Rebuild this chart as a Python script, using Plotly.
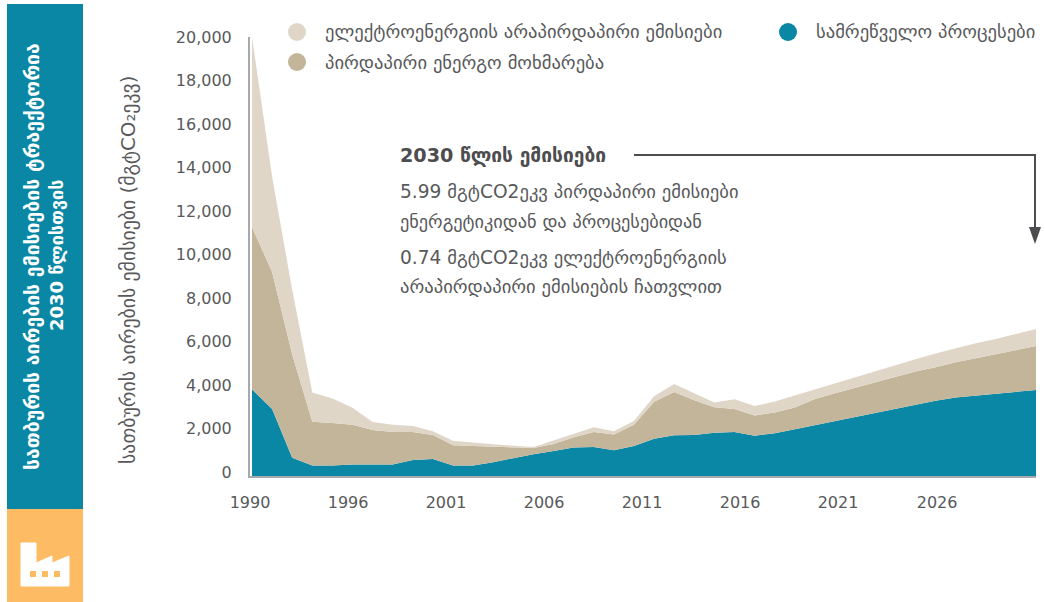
import plotly.graph_objects as go

W, H = 1045, 602
L, R, T_, B = 250, 1036, 37, 476

point_index = list(range(40))
process = [3939,3049,825,479,479,528,528,528,726,775,479,479,627,825,993,1141,1299,1319,1171,1368,1695,1853,1863,1961,2001,1833,1942,2130,2317,2505,2693,2881,3069,3257,3425,3573,3662,3741,3830,3909]
direct = [7375,6228,4696,1987,1928,1799,1562,1473,1275,1087,914,890,712,484,277,316,465,682,712,959,1681,1967,1582,1167,1048,919,949,979,1186,1256,1315,1384,1443,1493,1522,1602,1690,1789,1888,1997]
indirect = [8640,4323,2929,1325,1117,771,366,326,277,168,213,138,99,69,49,158,158,217,148,178,247,366,316,217,445,425,494,554,425,445,475,494,514,554,623,643,682,702,741,776]

x_tick_labels = ["1990","1996","2001","2006","2011","2016","2021","2026"]
x_tick_pos = [-0.1,4.78,9.65,14.53,19.4,24.28,29.15,34.08]
y_tick_labels = ["0","2,000","4,000","6,000","8,000","10,000","12,000","14,000","16,000","18,000","20,000"]
y_tick_pos = [182,2159,4136,6113,8090,10067,12044,14021,15998,17975,19952]

TEAL = "#0a87a4"
TAN = "#c3b59a"
BEIGE = "#dfd6c7"
ORANGE = "#fdbb63"
GREY = "#58595b"
AXIS = "#a7a9ac"
FONT = "DejaVu Sans, sans-serif"

def px(x): return (x - L) / (R - L)
def py(y): return (B - y) / (B - T_)
def P(x, y): return f"{px(x):.5f} {py(y):.5f}"

fig = go.Figure()
for name, vals, col in [("სამრეწველო პროცესები", process, TEAL),
                        ("პირდაპირი ენერგო მოხმარება", direct, TAN),
                        ("ელექტროენერგიის არაპირდაპირი ემისიები", indirect, BEIGE)]:
    fig.add_trace(go.Scatter(x=point_index, y=vals, name=name, mode="lines",
                             stackgroup="one", line=dict(width=0, color=col),
                             fillcolor=col, hoverinfo="skip"))

shapes = []
def rect(x0, y0, x1, y1, col):
    shapes.append(dict(type="rect", xref="paper", yref="paper", x0=px(x0), x1=px(x1),
                       y0=py(y1), y1=py(y0), fillcolor=col, line_width=0))
def circle(cx, cy, r, col):
    shapes.append(dict(type="circle", xref="paper", yref="paper", x0=px(cx-r), x1=px(cx+r),
                       y0=py(cy+r), y1=py(cy-r), fillcolor=col, line_width=0))
rect(7, 4, 83, 509, TEAL)
rect(7, 509, 83, 602, ORANGE)
circle(297, 32, 9, BEIGE)
circle(297, 62, 9, TAN)
circle(788, 32, 9, TEAL)

# leader line + arrow head
shapes.append(dict(type="path", xref="paper", yref="paper",
                   path=f"M {P(634,155)} L {P(1035,155)} L {P(1035,232)}",
                   line=dict(color="#4d4d4f", width=2)))
shapes.append(dict(type="path", xref="paper", yref="paper",
                   path=f"M {P(1029,227)} L {P(1041,227)} L {P(1035,244)} Z",
                   fillcolor="#4d4d4f", line_width=0))
# factory icon
icon = [(21,586),(21,543),(36,543),(36,563),(52,556),(52,563),(69,556),(69,586)]
shapes.append(dict(type="path", xref="paper", yref="paper",
                   path="M " + " L ".join(P(a,b) for a,b in icon) + " Z",
                   fillcolor="white", line=dict(color="white", width=1)))
for xx in (30, 42, 54):
    rect(xx, 571, xx+6, 577, ORANGE)

ann = []
def text(x, y, s, size, col=GREY, bold=False, anchor="left", angle=0):
    ann.append(dict(xref="paper", yref="paper", x=px(x), y=py(y), text=f"<b>{s}</b>" if bold else s,
                    showarrow=False, xanchor=anchor, yanchor="middle", textangle=angle,
                    font=dict(family=FONT, size=size, color=col)))
text(323, 32, "ელექტროენერგიის არაპირდაპირი ემისიები", 18.6)
text(323, 62, "პირდაპირი ენერგო მოხმარება", 18.6)
text(814, 32, "სამრეწველო პროცესები", 18.6)
text(398, 155, "2030 წლის ემისიები", 19.2, col="#4d4d4f", bold=True)
text(398, 191, "5.99 მგტCO2ეკვ პირდაპირი ემისიები", 18.6)
text(398, 221, "ენერგეტიკიდან და პროცესებიდან", 18.3)
text(398, 257, "0.74 მგტCO2ეკვ ელექტროენერგიის", 18.6)
text(398, 286, "არაპირდაპირი ემისიების ჩათვლით", 18.6)
text(128, 270, "სათბურის აირების ემისიები (მგტCO₂ეკვ)", 19.8, anchor="center", angle=-90)
text(32, 257, "სათბურის აირების ემისიების ტრაექტორია", 19.4, col="white", bold=True, anchor="center", angle=-90)
text(57, 256, "2030 წლისთვის", 18, col="white", bold=True, anchor="center", angle=-90)

fig.update_layout(
    width=W, height=H, autosize=False, showlegend=False,
    margin=dict(l=L, r=W-R, t=T_, b=H-B, pad=0),
    plot_bgcolor="white", paper_bgcolor="white",
    shapes=shapes, annotations=ann,
    font=dict(family=FONT, size=16, color=GREY),
    xaxis=dict(range=[-0.1, 39], tickmode="array", tickvals=x_tick_pos, ticktext=x_tick_labels,
               showgrid=False, zeroline=False, showline=True, linecolor=AXIS, linewidth=2,
               ticks="", ticklabelstandoff=11, tickfont=dict(size=16, color=GREY)),
    yaxis=dict(range=[0, 19954], tickmode="array", tickvals=y_tick_pos, ticktext=y_tick_labels,
               showgrid=False, zeroline=False, showline=True, linecolor=AXIS, linewidth=2,
               ticks="", ticklabelstandoff=13, tickfont=dict(size=16, color=GREY)),
)
fig.write_html("out.html", config={"displayModeBar": False},
               post_script="document.body.style.margin='0';")
